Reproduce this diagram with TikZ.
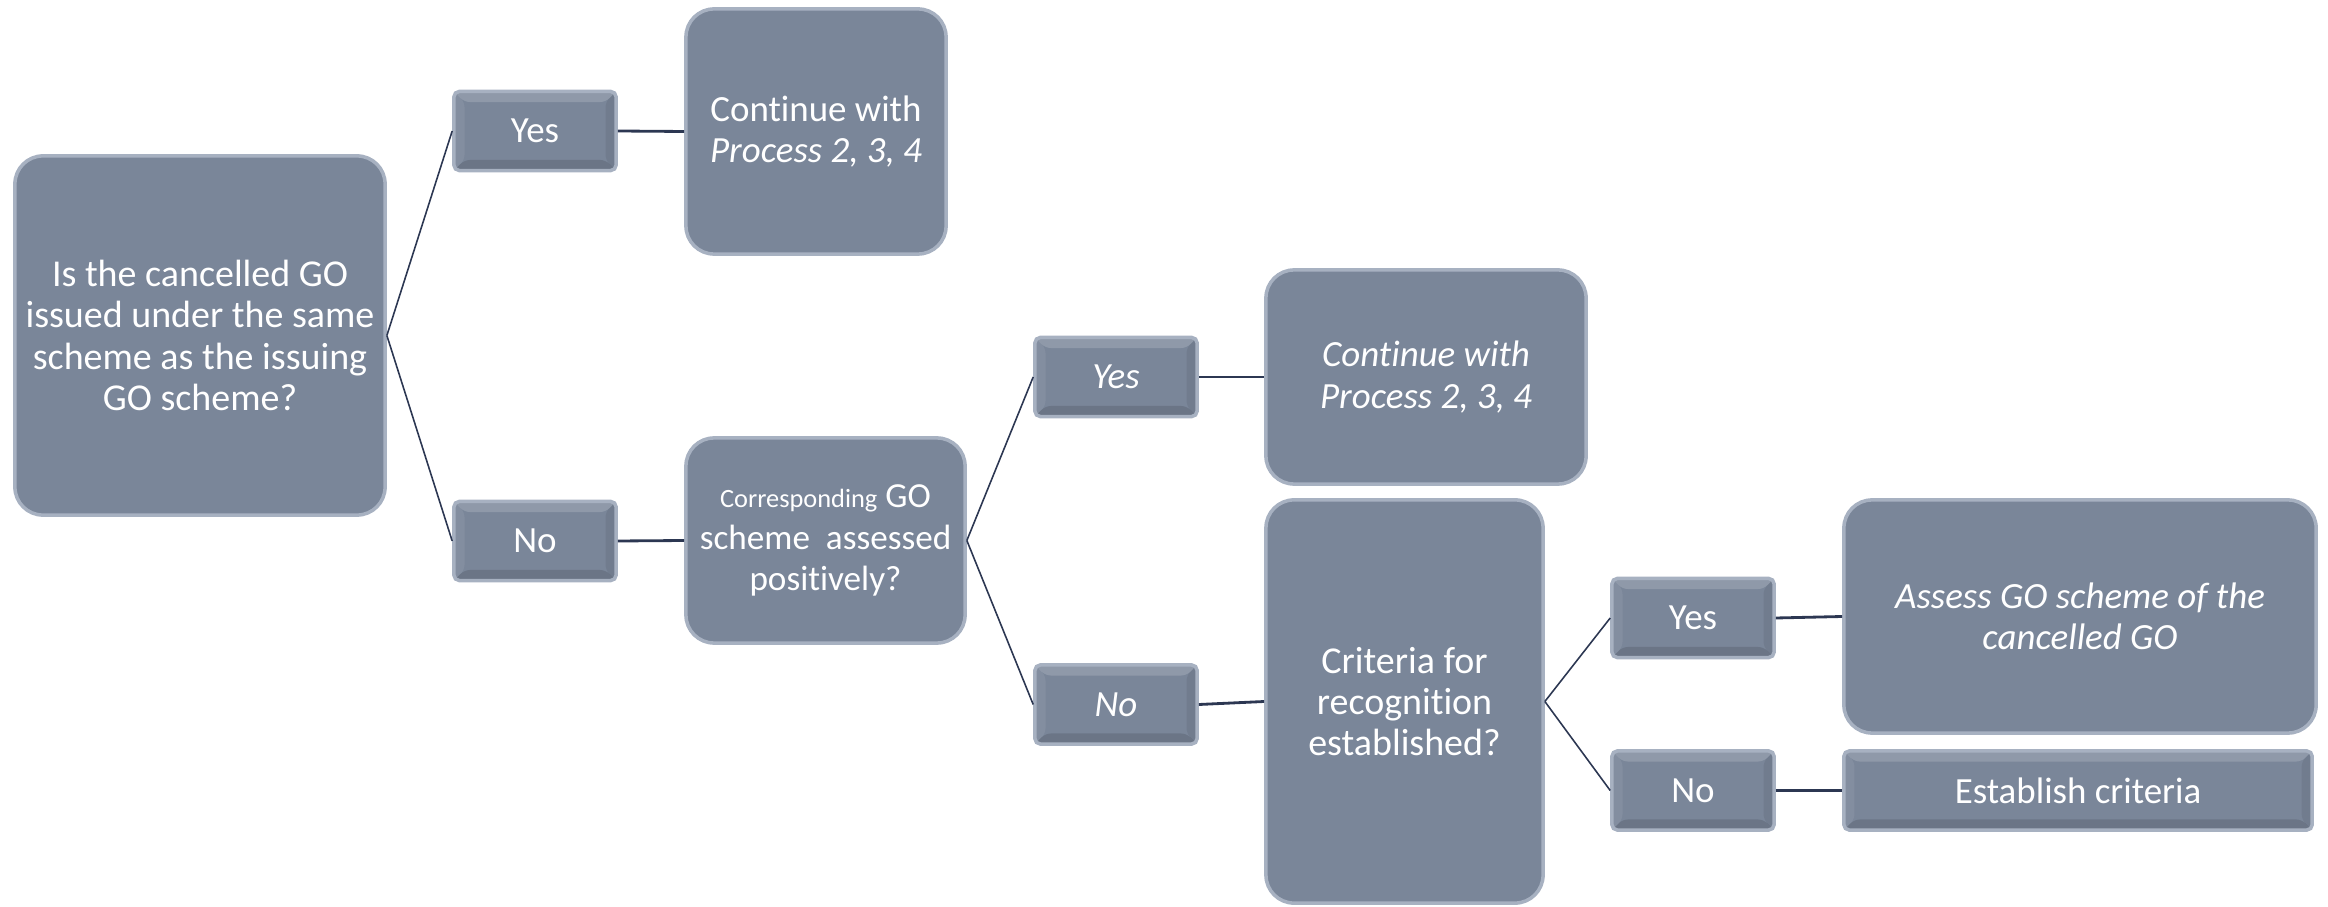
\documentclass[tikz,border=0pt]{standalone}
\usepackage{fontspec}
\setmainfont{Carlito}[Ligatures=NoCommon]

\definecolor{boxfill}{HTML}{7A8699}
\definecolor{boxedge}{HTML}{A7B1C1}
\definecolor{linkcol}{HTML}{2C3752}

\tikzset{
  box/.style={draw=boxedge, line width=1pt, fill=boxfill, text=white,
    rounded corners=8pt, align=center, inner sep=1pt,
    font=\fontsize{10.5}{11.7}\selectfont},
  bevel/.style={path picture={
    \coordinate (nw) at (path picture bounding box.north west);
    \coordinate (ne) at (path picture bounding box.north east);
    \coordinate (sw) at (path picture bounding box.south west);
    \coordinate (se) at (path picture bounding box.south east);
    \fill[white,opacity=.16] (nw) -- (ne) -- ([shift={(-3pt,-3pt)}]ne) -- ([shift={(3pt,-3pt)}]nw) -- cycle;
    \fill[white,opacity=.07] (nw) -- (sw) -- ([shift={(3pt,3pt)}]sw) -- ([shift={(3pt,-3pt)}]nw) -- cycle;
    \fill[black,opacity=.12] (sw) -- (se) -- ([shift={(-3pt,3pt)}]se) -- ([shift={(3pt,3pt)}]sw) -- cycle;
    \fill[black,opacity=.07] (ne) -- (se) -- ([shift={(-3pt,3pt)}]se) -- ([shift={(-3pt,-3pt)}]ne) -- cycle;
  }},
  answer/.style={box, rounded corners=1.5pt, bevel,
    minimum width=1.62cm, minimum height=.79cm},
  slanted/.style={font=\fontsize{10.5}{11.7}\selectfont\itshape},
  link/.style={draw=linkcol, line width=.45pt},
  stem/.style={draw=linkcol, line width=.8pt}
}

\begin{document}
\begin{tikzpicture}[x=0.01cm, y=-0.01cm]

\useasboundingbox (0,0) rectangle (2328,907);

% questions
\node[box, minimum width=3.7cm, minimum height=3.59cm,
  font=\fontsize{10.8}{11.7}\selectfont] (q1) at (200,335.5)
  {Is the cancelled GO\\issued under the same\\scheme as the issuing\\GO scheme?};
\node[box, minimum width=2.79cm, minimum height=2.05cm,
  font=\fontsize{10}{11.7}\selectfont] (q2) at (825.5,540.5)
  {{\fontsize{7.5}{8}\selectfont Corresponding} GO\\scheme\ \ assessed\\positively?};
\node[box, minimum width=2.77cm, minimum height=4.03cm,
  font=\fontsize{10.8}{11.7}\selectfont] (q3) at (1404.5,701.5)
  {Criteria for\\recognition\\established?};

% answers
\node[answer] (yesA) at (535,131) {Yes};
\node[answer] (noA) at (535,541) {No};
\node[answer, slanted] (yesB) at (1116,377) {Yes};
\node[answer, slanted] (noB) at (1116,704.5) {No};
\node[answer] (yesC) at (1693,618) {Yes};
\node[answer] (noC) at (1693,790.5) {No};

% outcomes
\node[box, minimum width=2.6cm, minimum height=2.45cm] (contA) at (816,131.5)
  {Continue with\\\textit{Process 2, 3, 4}};
\node[box, slanted, minimum width=3.2cm, minimum height=2.14cm] (contB) at (1426,377)
  {Continue with\\Process 2, 3, 4};
\node[box, slanted, minimum width=4.72cm, minimum height=2.33cm] (assess) at (2080,616.5)
  {Assess GO scheme of the\\cancelled GO};
\node[answer, minimum width=4.68cm] (establish) at (2078,790.5)
  {Establish criteria};

\foreach \a/\b in {q1/yesA, q1/noA, q2/yesB, q2/noB, q3/yesC, q3/noC}
    \draw[link] (\a.east) -- (\b.west);

\foreach \a/\b in {yesA/contA, noA/q2, yesB/contB, noB/q3, yesC/assess, noC/establish}
    \draw[stem] (\a.east) -- (\b.west);

\end{tikzpicture}
\end{document}
